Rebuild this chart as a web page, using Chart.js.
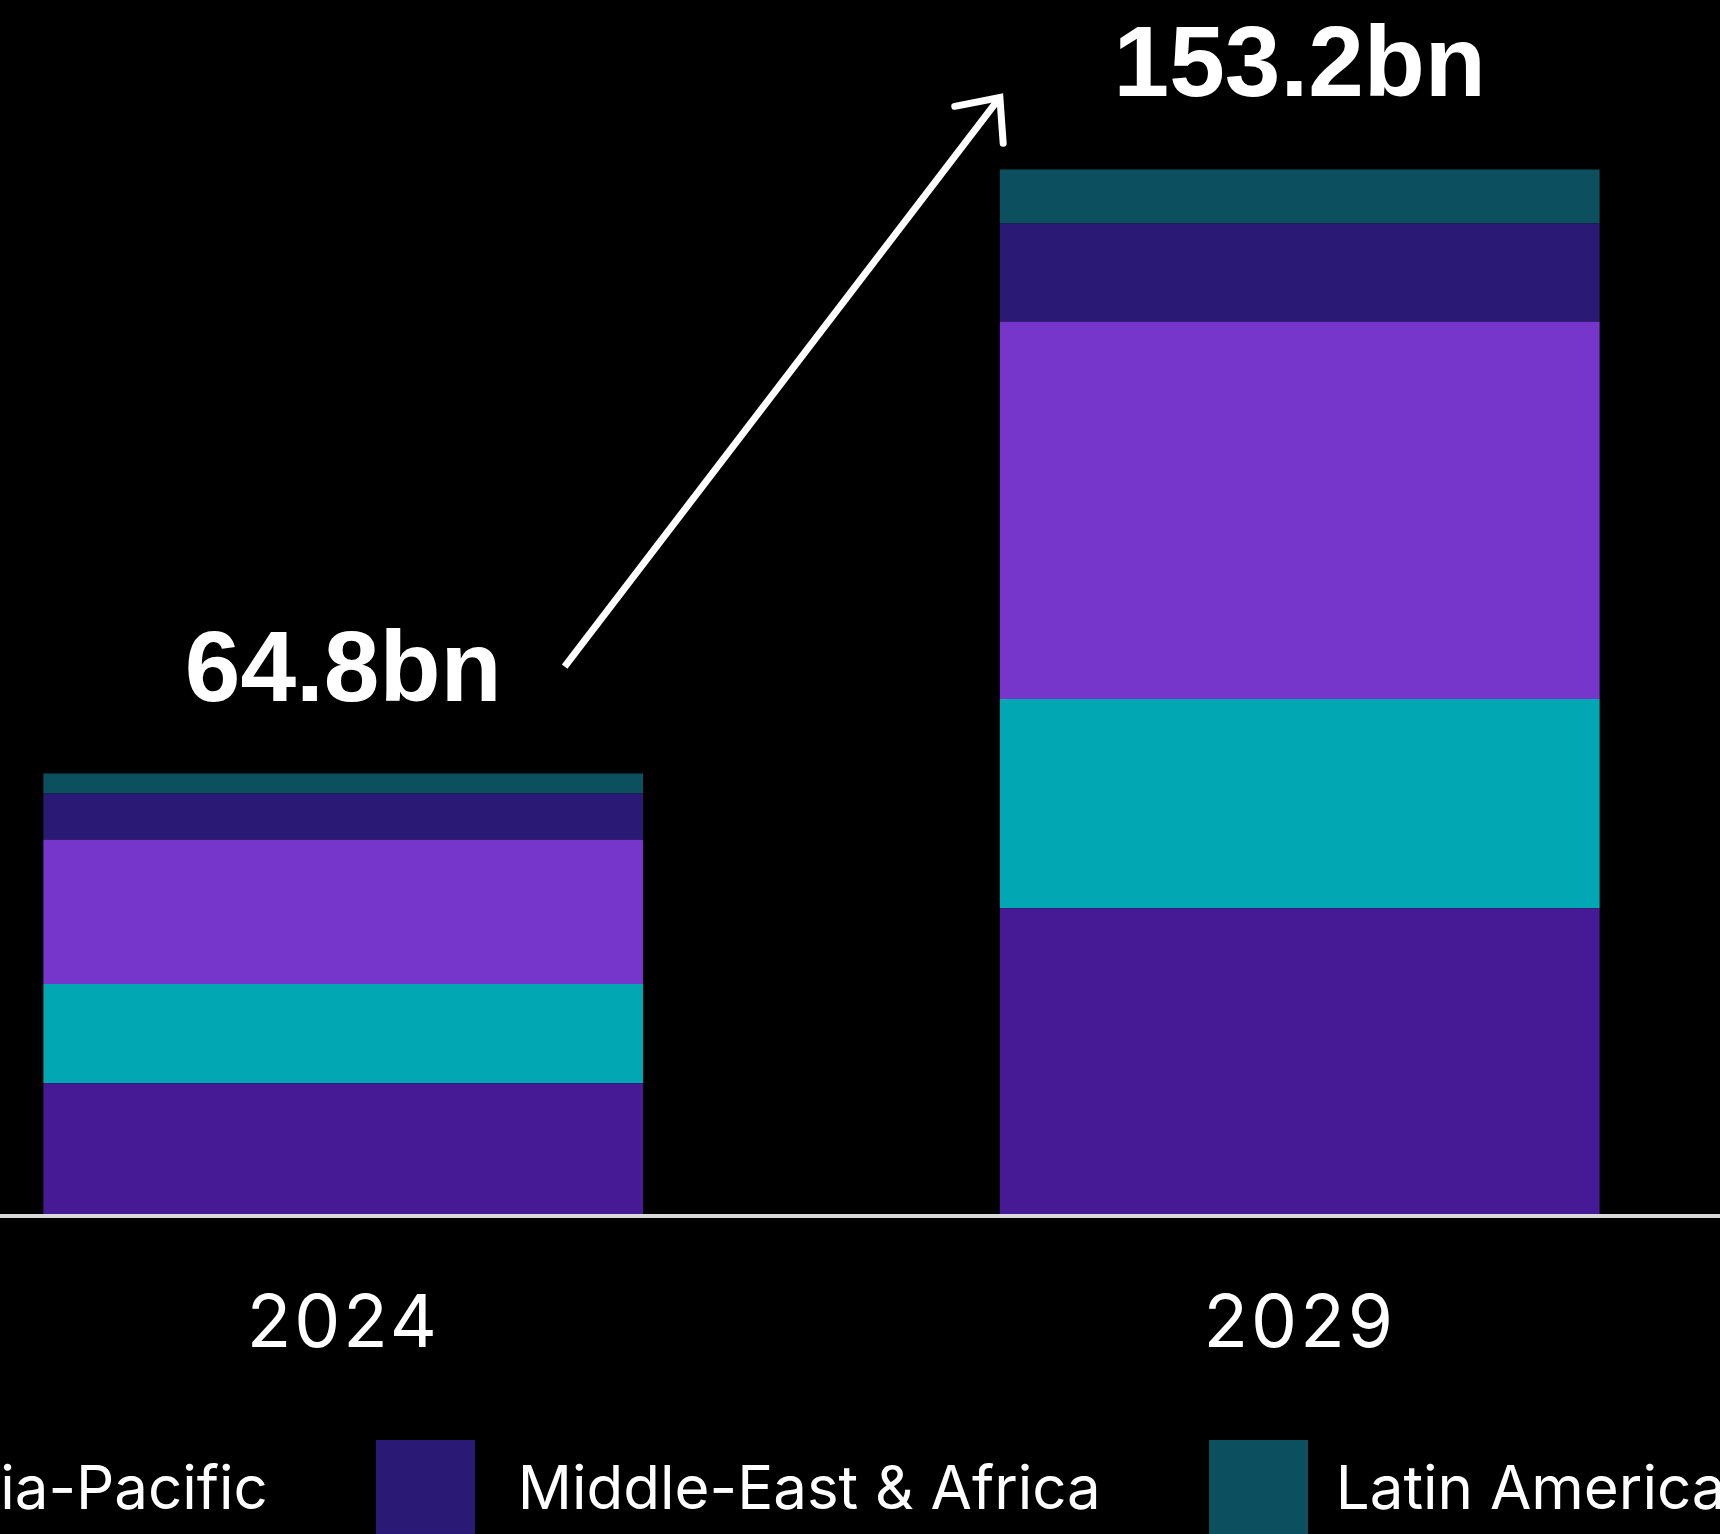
<!DOCTYPE html>
<html>
<head>
<meta charset="utf-8">
<script src="https://cdn.jsdelivr.net/npm/chart.js@4.4.1/dist/chart.umd.min.js"></script>
<style>
  html, body { margin: 0; padding: 0; background: #000; }
  body { width: 1720px; height: 1534px; overflow: hidden; position: relative; font-family: Inter, "Liberation Sans", sans-serif; }
  #wrap { position: absolute; left: -135px; top: 0; width: 1913px; height: 1434px; }
  #legend { position: absolute; top: 1440px; left: 0; display: flex; white-space: nowrap; color: #fff; font-size: 60px; }
  .item { display: flex; align-items: flex-start; margin-right: 108px; }
  .item:last-child { margin-right: 0; }
  .sw { width: 99px; height: 99px; flex: none; }
  .lbl { margin-left: 43px; line-height: 1; padding-top: 17px; }
  .item:last-child .lbl { margin-left: 28px; }
</style>
</head>
<body>
<div id="wrap"><canvas id="c" width="1913" height="1434"></canvas></div>
<div id="legend"></div>
<script>
// Market size by region, USD bn
const years = ['2024', '2029'];
const regions = ['North America', 'Europe', 'Asia-Pacific', 'Middle-East & Africa', 'Latin America'];
const northAmerica     = [19.5, 45.1];
const europe           = [14.5, 30.6];
const asiaPacific      = [21.1, 55.2];
const middleEastAfrica = [6.8, 14.4];
const latinAmerica     = [2.9, 7.9];
const regionColors = ['#461a94', '#01a8b4', '#7736cb', '#2b1a75', '#0c5060'];

const series = [northAmerica, europe, asiaPacific, middleEastAfrica, latinAmerica];
const totals = years.map((_, i) => series.reduce((s, d) => s + d[i], 0));

// Wider tracking for the year labels on the category axis
const tickSpacing = {
  id: 'tickSpacing',
  beforeDraw(chart) { chart.ctx.letterSpacing = '3px'; },
  beforeDatasetsDraw(chart) { chart.ctx.letterSpacing = '0px'; }
};

// Totals above each stack, plus the growth arrow between them
const totalsPlugin = {
  id: 'totals',
  afterDatasetsDraw(chart) {
    const ctx = chart.ctx;
    const bars = chart.getDatasetMeta(series.length - 1).data;
    const gap = 73;
    ctx.save();
    ctx.fillStyle = '#fff';
    ctx.font = 'bold 100px "Liberation Sans", Arial, sans-serif';
    ctx.textAlign = 'center';
    ctx.textBaseline = 'alphabetic';
    const widths = [];
    bars.forEach((bar, i) => {
      const txt = totals[i].toFixed(1) + 'bn';
      ctx.fillText(txt, bar.x, bar.y - gap);
      widths.push(ctx.measureText(txt).width);
    });

    // arrow from the first total towards the second stack
    const a = bars[0], b = bars[1];
    const x0 = a.x + widths[0] / 2 + 63;
    const y0 = a.y - gap - 34;
    const x1 = b.x - b.width / 2;
    const y1 = b.y - gap + 1;
    ctx.strokeStyle = '#fff';
    ctx.lineWidth = 7;
    ctx.lineCap = 'butt';
    ctx.beginPath();
    ctx.moveTo(x0, y0);
    ctx.lineTo(x1, y1);
    ctx.stroke();
    const ang = Math.atan2(y0 - y1, x0 - x1);
    const spread = 41.5 * Math.PI / 180;
    const len = 46;
    ctx.lineCap = 'round';
    ctx.lineJoin = 'miter';
    ctx.beginPath();
    ctx.moveTo(x1 + len * Math.cos(ang + spread), y1 + len * Math.sin(ang + spread));
    ctx.lineTo(x1, y1);
    ctx.lineTo(x1 + len * Math.cos(ang - spread), y1 + len * Math.sin(ang - spread));
    ctx.stroke();
    ctx.restore();
  }
};

const chart = new Chart(document.getElementById('c'), {
  type: 'bar',
  data: {
    labels: years,
    datasets: regions.map((name, i) => ({
      label: name,
      data: series[i],
      backgroundColor: regionColors[i],
      borderWidth: 0,
      categoryPercentage: 1,
      barPercentage: 0.627
    }))
  },
  options: {
    responsive: false,
    animation: false,
    devicePixelRatio: 1,
    layout: { padding: 0 },
    plugins: { legend: { display: false }, tooltip: { enabled: false } },
    scales: {
      x: {
        stacked: true,
        grid: { display: false, drawTicks: false },
        border: { display: true, color: '#d9d9d9', width: 4, z: 1 },
        ticks: { color: '#fff', font: { family: 'Inter', size: 73 }, padding: 65 }
      },
      y: { stacked: true, display: false, min: 0, max: 178 }
    }
  },
  plugins: [tickSpacing, totalsPlugin]
});

// Legend row below the plot
const legend = document.getElementById('legend');
const items = regions.map((name, i) => {
  const item = document.createElement('div');
  item.className = 'item';
  const sw = document.createElement('div');
  sw.className = 'sw';
  sw.style.background = regionColors[i];
  const lbl = document.createElement('span');
  lbl.className = 'lbl';
  lbl.textContent = name;
  item.appendChild(sw);
  item.appendChild(lbl);
  legend.appendChild(item);
  return item;
});
legend.style.left = (376 - items[3].offsetLeft) + 'px';
</script>
</body>
</html>
